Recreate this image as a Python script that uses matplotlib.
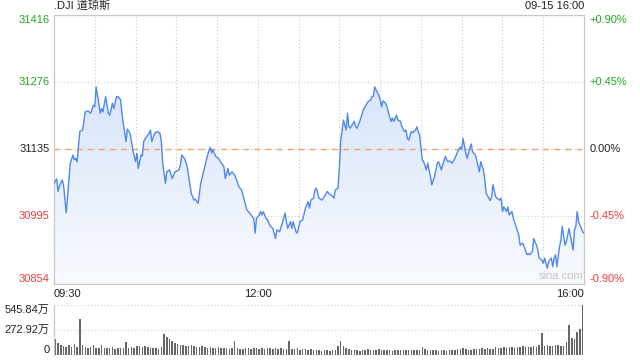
import numpy as np
import matplotlib
matplotlib.use("Agg")
import matplotlib.pyplot as plt
import matplotlib.transforms as mtransforms
from matplotlib.colors import LinearSegmentedColormap

plt.rcParams['font.family'] = ['Liberation Sans', 'Noto Sans CJK SC']

# price axis
prev_close = 31135
price_ticks = [31416, 31276, 31135, 30995, 30854]
pct_labels = ['+0.90%', '+0.45%', '0.00%', '-0.45%', '-0.90%']
tick_colors = ['#22a722', '#22a722', '#222222', '#f03c3c', '#f03c3c']
time_ticks = [0, 150, 390]
time_labels = ['09:30', '12:00', '16:00']

# minutes after 09:30 and index level
minute = [0, 2, 3, 4, 6, 7, 9, 11, 12, 14, 15, 16, 17, 19, 21, 23, 25, 27, 29, 30,
          31, 33, 34, 35, 36, 38, 40, 41, 43, 44, 46, 47, 49, 50, 51, 53, 54, 56, 58, 60,
          61, 62, 64, 65, 66, 68, 70, 71, 72, 74, 76, 78, 79, 80, 82, 83, 85, 87, 89, 92,
          93, 94, 96, 98, 101, 103, 104, 106, 108, 110, 112, 113, 115, 116, 117, 119, 121, 123, 125, 126,
          128, 129, 131, 133, 134, 136, 138, 140, 142, 144, 146, 147, 148, 149, 151, 152, 153, 154, 156, 157,
          159, 161, 163, 164, 166, 168, 170, 171, 172, 174, 175, 176, 178, 179, 181, 183, 185, 187, 188, 189,
          191, 192, 193, 195, 197, 199, 201, 203, 204, 206, 207, 209, 210, 211, 212, 213, 215, 216, 217, 218,
          220, 221, 222, 223, 225, 226, 228, 229, 231, 233, 234, 235, 236, 237, 239, 240, 241, 242, 244, 245,
          246, 248, 249, 250, 252, 253, 255, 256, 258, 259, 260, 261, 263, 264, 266, 267, 268, 269, 271, 272,
          274, 275, 277, 278, 280, 282, 283, 285, 286, 288, 289, 290, 291, 293, 295, 297, 299, 300, 301, 303,
          304, 306, 307, 308, 310, 311, 313, 314, 316, 317, 318, 320, 321, 322, 323, 325, 326, 328, 329, 330,
          331, 333, 334, 335, 337, 338, 340, 342, 343, 345, 346, 348, 349, 350, 352, 353, 355, 356, 357, 359,
          360, 361, 363, 364, 366, 367, 368, 369, 370, 372, 373, 374, 376, 377, 379, 380, 382, 383, 384, 385,
          386, 388, 389, 390]
price = [31064, 31073, 31047, 31058, 31071, 31061, 31002, 31071, 31106, 31123, 31113, 31116, 31109, 31172, 31175, 31213, 31215, 31210, 31227, 31224,
         31265, 31231, 31210, 31220, 31213, 31245, 31210, 31206, 31231, 31220, 31245, 31245, 31238, 31210, 31189, 31151, 31177, 31168, 31134, 31109,
         31127, 31095, 31123, 31121, 31151, 31161, 31168, 31175, 31151, 31168, 31172, 31168, 31151, 31106, 31064, 31088, 31092, 31074, 31088, 31092,
         31102, 31123, 31116, 31099, 31043, 31029, 31031, 31022, 31064, 31088, 31113, 31123, 31139, 31127, 31134, 31120, 31116, 31107, 31099, 31074,
         31095, 31081, 31088, 31081, 31074, 31057, 31050, 31029, 31008, 31002, 30994, 30991, 30960, 30991, 30998, 31005, 30998, 31005, 30991, 30988,
         30975, 30970, 30949, 30967, 30963, 30981, 31002, 30984, 30970, 30984, 30970, 30984, 30963, 30960, 30984, 30988, 31012, 31026, 31012, 31029,
         31033, 31050, 31054, 31033, 31029, 31036, 31047, 31040, 31040, 31033, 31050, 31054, 31099, 31154, 31175, 31196, 31175, 31210, 31182, 31179,
         31189, 31193, 31182, 31179, 31193, 31203, 31220, 31224, 31234, 31238, 31245, 31246, 31265, 31259, 31248, 31238, 31224, 31236, 31231, 31224,
         31213, 31193, 31200, 31193, 31206, 31196, 31193, 31182, 31172, 31175, 31158, 31154, 31172, 31170, 31175, 31182, 31172, 31165, 31113, 31109,
         31092, 31106, 31078, 31061, 31078, 31106, 31109, 31092, 31102, 31120, 31113, 31109, 31111, 31106, 31116, 31130, 31140, 31134, 31158, 31127,
         31116, 31137, 31146, 31130, 31123, 31113, 31088, 31109, 31092, 31071, 31043, 31033, 31028, 31036, 31061, 31036, 31033, 31029, 31033, 31005,
         31015, 31005, 31015, 30998, 31005, 30991, 30974, 30956, 30935, 30939, 30932, 30915, 30918, 30915, 30921, 30949, 30935, 30925, 30908, 30904,
         30897, 30908, 30887, 30901, 30908, 30890, 30908, 30915, 30890, 30932, 30946, 30974, 30935, 30942, 30970, 30953, 30925, 30967, 30974, 31005,
         30984, 30970, 30963, 30960]

# volume, 2-minute bars, unit: 万
vol = [173, 133, 108, 97, 90, 108, 83, 119, 86, 389, 108, 83, 79, 90, 108,
       79, 72, 108, 76, 79, 72, 83, 68, 76, 79, 72, 144, 79, 83, 76,
       97, 94, 90, 97, 86, 76, 72, 79, 68, 83, 227, 198, 169, 155, 133,
       119, 112, 108, 101, 97, 112, 94, 90, 86, 97, 83, 79, 90, 76, 72,
       83, 72, 79, 76, 68, 72, 155, 76, 68, 65, 72, 79, 68, 76, 72,
       65, 72, 68, 79, 72, 65, 76, 68, 72, 65, 68, 155, 61, 65, 72,
       58, 65, 61, 54, 65, 58, 54, 50, 47, 54, 50, 47, 54, 58, 97,
       155, 97, 72, 61, 58, 54, 50, 47, 54, 58, 61, 54, 50, 58, 61,
       54, 50, 58, 54, 47, 54, 50, 58, 54, 58, 54, 50, 54, 50, 58,
       90, 61, 54, 58, 50, 54, 47, 50, 54, 47, 50, 54, 58, 61, 65,
       72, 61, 58, 54, 65, 61, 68, 72, 68, 72, 65, 68, 83, 79, 72,
       83, 76, 90, 86, 79, 90, 83, 94, 86, 90, 83, 94, 90, 108, 234,
       97, 108, 94, 101, 108, 112, 97, 101, 144, 324, 180, 169, 252, 277, 545.84]
vol_ticks = [545.84, 272.92, 0]
vol_labels = ['545.84万', '272.92万', '0']

grid_kw = dict(color='#cccccc', linestyle=(0, (1, 2)), linewidth=0.8)
fs = 8

fig = plt.figure(figsize=(6.4, 3.6), dpi=100)
ax = fig.add_axes([54 / 640, 1 - 284 / 360, 530 / 640, 269.5 / 360])
axv = fig.add_axes([54 / 640, 1 - 355 / 360, 530 / 640, 50.5 / 360])

# gradient area under the line
poly = ax.fill_between(minute, price, price_ticks[-1], color='none', linewidth=0)
cmap = LinearSegmentedColormap.from_list('area', ['#f8fafe', '#d9e5fa'])
grad = np.linspace(0, 1, 256).reshape(-1, 1)
img = ax.imshow(grad, cmap=cmap, aspect='auto', origin='lower',
                extent=[0, 390, price_ticks[-1], max(price)], zorder=1)
img.set_clip_path(poly.get_paths()[0], transform=ax.transData)
ax.plot(minute, price, color='#4f88ec', linewidth=1.0, zorder=3)

for t in range(30, 390, 30):
    ax.axvline(t, zorder=0, **grid_kw)
    axv.axvline(t, zorder=0, color='none')
for p in price_ticks:
    if p != prev_close:
        ax.axhline(p, zorder=0, **grid_kw)
ax.axhline(prev_close, color='#cccccc', linestyle=(0, (1, 2)), linewidth=0.8, zorder=2)
ax.axhline(prev_close, color='#f0a068', linestyle=(0, (4, 4)), linewidth=1.0, zorder=2)

ax.set_xlim(0, 390)
ax.set_ylim(price_ticks[-1], price_ticks[0])
ax.set_xticks([])
ax.set_yticks([])
for s in ax.spines.values():
    s.set_color('#c8c8c8')
    s.set_linewidth(0.9)

trans_l = mtransforms.blended_transform_factory(ax.transAxes, ax.transData)
for i, (p, lab, c) in enumerate(zip(price_ticks, pct_labels, tick_colors)):
    va = 'top' if i == 0 else ('bottom' if i == len(price_ticks) - 1 else 'center')
    ax.text(-0.008, p, str(p), transform=trans_l, ha='right', va=va, color=c, fontsize=fs)
    ax.text(1.011, p, lab, transform=trans_l, ha='left', va=va, color=c, fontsize=fs)

ax.text(0.0, 1.012, '.DJI 道琼斯', transform=ax.transAxes, ha='left', va='bottom',
        fontsize=fs, color='#222222')
ax.text(1.0, 1.012, '09-15 16:00', transform=ax.transAxes, ha='right', va='bottom',
        fontsize=fs, color='#222222')
ax.text(0.957, 0.012, 'sina.com', transform=ax.transAxes, ha='center', va='bottom',
        fontsize=8, color='#c4c4c4')

trans_x = mtransforms.blended_transform_factory(ax.transData, ax.transAxes)
for t, lab in zip(time_ticks, time_labels):
    ha = 'left' if t == 0 else ('right' if t == 390 else 'center')
    ax.text(t, -0.02, lab, transform=trans_x, ha=ha, va='top', fontsize=fs, color='#222222')

# volume panel
bar_x = [2 * i + 1 for i in range(len(vol))]
axv.bar(bar_x, vol, width=1.1, color='#666666', linewidth=0)
axv.set_xlim(0, 390)
axv.set_ylim(0, vol_ticks[0])
axv.axhline(vol_ticks[0], zorder=0, **grid_kw)
axv.axhline(vol_ticks[1], zorder=0, **grid_kw)
axv.set_xticks([])
axv.set_yticks([])
for side in ['top', 'right', 'bottom']:
    axv.spines[side].set_visible(False)
axv.spines['left'].set_color('#c8c8c8')
axv.spines['left'].set_linewidth(0.9)
trans_v = mtransforms.blended_transform_factory(axv.transAxes, axv.transData)
for i, (v, lab) in enumerate(zip(vol_ticks, vol_labels)):
    va = 'top' if i == 0 else ('bottom' if i == len(vol_ticks) - 1 else 'center')
    axv.text(-0.008, v, lab, transform=trans_v, ha='right', va=va, fontsize=fs, color='#222222')

fig.savefig('out.png', dpi=100)
